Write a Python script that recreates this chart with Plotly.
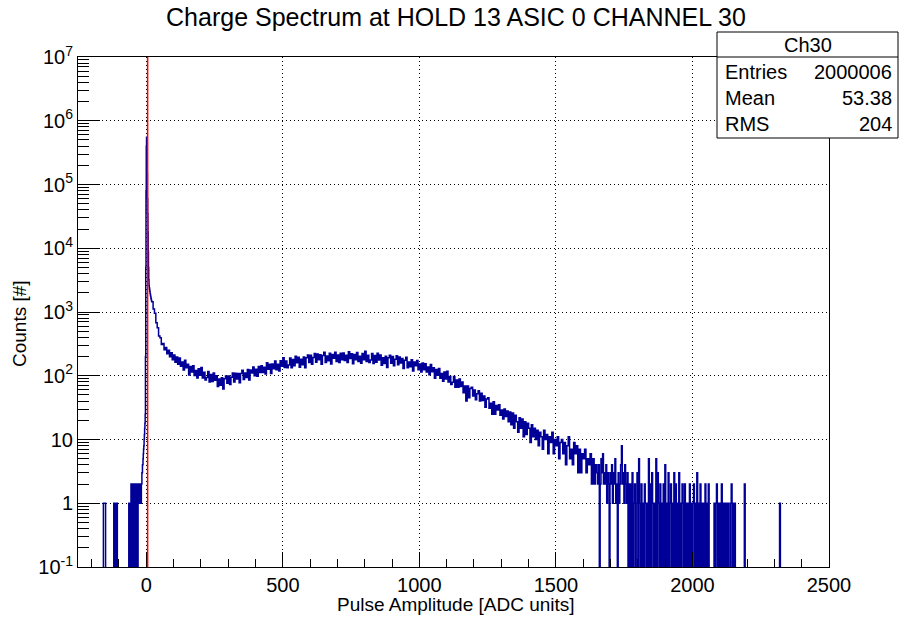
import plotly.graph_objects as go

# ---------------- data ----------------
x_min, x_max = -250, 2500

# isolated single-count bins on the negative side (1 ADC wide)
neg_bins = [-157, -156, -155, -154, -153, -152, -151, -150, -119, -118, -113, -108, -107]
neg_counts = [1, 1, 1, 1, 1, 1, 1, 1, 1, 1, 1, 1, 1]

# dense low region, 1 ADC bins starting at -64
low_start = -64
low_counts = [1, 0, 1, 0, 0, 1, 1, 0, 2, 1, 2, 0, 1, 2, 2, 1, 0, 2, 1, 2, 2, 0, 1, 2,
              1, 1, 2, 0, 2, 1, 2, 2, 1, 0, 2, 1, 2, 1, 2, 2, 1, 2, 1, 2, 2, 1, 2, 2]

# pedestal peak, 1 ADC bins starting at -16
peak_start = -16
peak_counts = [3, 3, 4, 4, 5, 6, 7, 8, 10, 12, 15, 18, 25, 200, 5000, 80000,
               400000, 550000, 350000, 150000, 60000, 35000, 18000, 9000, 5000, 3200,
               2600, 2400, 2250, 2100, 1950, 1850, 1750, 1650, 1570, 1500]

# main spectrum, 5 ADC bins starting at 20
main_start, main_width = 20, 5
main_counts = [
    1450, 1110, 960, 680, 565, 420, 395, 310, 320, 255, 278, 222, 252, 198, 230, 178, 212, 163, 196, 152,
    190, 141, 164, 123, 175, 133, 152, 103, 140, 114, 144, 101, 121, 92, 129, 102, 135, 92, 113, 86,
    94, 117, 80, 105, 81, 110, 85, 100, 68, 89, 71, 93, 62, 90, 99, 76, 99, 73, 95, 110,
    80, 109, 89, 108, 78, 108, 122, 87, 110, 94, 125, 86, 123, 110, 137, 100, 127, 98, 140, 112,
    144, 112, 136, 107, 160, 127, 152, 108, 153, 129, 170, 124, 151, 119, 172, 141, 192, 135, 171, 133,
    148, 190, 134, 180, 144, 202, 160, 195, 136, 182, 149, 197, 133, 192, 212, 161, 209, 152, 194, 223,
    163, 219, 178, 214, 151, 207, 233, 162, 204, 172, 226, 153, 215, 189, 234, 168, 212, 161, 225, 179,
    227, 173, 209, 162, 238, 187, 221, 154, 215, 179, 232, 167, 202, 157, 223, 179, 242, 168, 210, 161,
    177, 223, 156, 207, 163, 226, 176, 212, 146, 192, 155, 203, 135, 192, 209, 157, 201, 144, 182, 206,
    149, 197, 158, 187, 130, 175, 195, 134, 165, 138, 179, 119, 165, 143, 174, 124, 153, 115, 159, 124,
    154, 115, 137, 104, 150, 116, 134, 91, 125, 102, 130, 91, 108, 82, 114, 89, 118, 80, 97, 73,
    79, 97, 66, 86, 66, 89, 68, 80, 54, 69, 40, 69, 45, 63, 66, 48, 60, 42, 52, 58,
    40, 53, 41, 48, 32, 43, 45, 31, 37, 25, 39, 25, 34, 29, 35, 24, 29, 21, 30, 23,
    28, 19, 27, 17, 26, 15, 24, 19, 13, 22, 15, 21, 11, 19, 12, 18, 15, 9, 17, 11,
    15, 10, 14, 8, 13, 11, 7, 14, 10, 12, 6, 11, 9, 13, 6, 10, 8, 11, 5, 9,
    10, 6, 9, 4, 8, 11, 5, 7, 4, 9, 6, 8, 3, 7, 3, 6, 5, 7, 3, 5,
    4, 6, 2, 5, 2, 4,
]

# sparse tail, 3 ADC bins starting at 1650
tail_start, tail_width = 1650, 3
tail_counts = [
    3, 2, 4, 0, 2, 5, 3, 6, 2, 3,
    2, 4, 1, 3, 2, 0, 3, 2, 4, 1,
    3, 2, 5, 1, 2, 0, 3, 1, 2, 4,
    8, 2, 3, 1, 4, 2, 1, 3, 0, 2,
    0, 2, 0, 3, 0, 1, 2, 0, 1, 3,
    0, 5, 1, 0, 2, 0, 1, 0, 2, 1,
    0, 1, 0, 5, 0, 2, 0, 3, 1, 0,
    1, 0, 5, 0, 3, 1, 0, 2, 0, 1,
    0, 2, 0, 4, 0, 1, 0, 3, 0, 1,
    2, 0, 1, 0, 3, 0, 2, 0, 1, 0,
    3, 0, 1, 0, 2, 1, 0, 2, 0, 1,
    0, 1, 0, 2, 0, 1, 0, 1, 2, 0,
    1, 0, 3, 0, 1, 0, 2, 0, 1, 0,
    1, 0, 2, 0, 1, 0, 2, 0, 0, 0,
    0, 0, 0, 1, 0, 1, 2, 0, 1, 0,
    1, 0, 2, 0, 1, 0, 1, 0, 1, 0,
    1, 0, 0, 1, 2, 0, 1, 0, 1, 0,
    0, 0, 0, 0, 0, 0, 0, 0, 0, 0,
    2, 0, 0, 0, 0, 0, 0, 0, 0, 0,
    0, 0, 0, 0, 0, 0, 0, 0, 0, 0,
    0, 0, 0, 0, 0, 0, 0, 0, 0, 0,
    0, 0, 0, 0, 0, 0, 0, 0, 0, 0,
    0, 0, 0, 1, 0, 0, 0, 0, 0, 0,
]

pedestal_line = 5  # red marker line [ADC]

title_text = "Charge Spectrum at HOLD 13 ASIC 0 CHANNEL 30"
x_title = "Pulse Amplitude [ADC units]"
y_title = "Counts [#]"
stats_name = "Ch30"
stats_labels = ["Entries", "Mean", "RMS"]
stats_values = ["2000006", "53.38", "204"]

x_ticks = [0, 500, 1000, 1500, 2000, 2500]
y_tickvals = [0.1, 1, 10, 100, 1e3, 1e4, 1e5, 1e6, 1e7]
y_ticktext = ["10<sup>-1</sup>", "1", "10", "10<sup>2</sup>", "10<sup>3</sup>",
              "10<sup>4</sup>", "10<sup>5</sup>", "10<sup>6</sup>", "10<sup>7</sup>"]

# ---------------- build histogram outline ----------------
xs, ys = [], []


def add(start, width, counts):
    for i, c in enumerate(counts):
        xs.append(start + i * width)
        ys.append(c)


neg_dense = [0] * (low_start - x_min)
for b, c in zip(neg_bins, neg_counts):
    neg_dense[b - x_min] = c
add(x_min, 1, neg_dense)
add(low_start, 1, low_counts)
add(peak_start, 1, peak_counts)
add(main_start, main_width, main_counts)
add(tail_start, tail_width, tail_counts)
tail_end = tail_start + tail_width * len(tail_counts)
xs.append(tail_end)
ys.append(0)
xs.append(x_max)
ys.append(0)

floor = 1e-3
ys_plot = [v if v > 0 else floor for v in ys]

FONT = "Liberation Sans, Arial, Helvetica, sans-serif"
fig = go.Figure()
fig.add_trace(go.Scatter(x=xs, y=ys_plot, mode="lines", line=dict(color="#000099", width=1.5, shape="hv"),
                         hoverinfo="skip", showlegend=False))

fig.add_shape(type="line", xref="x", yref="paper", x0=pedestal_line, x1=pedestal_line, y0=0, y1=1,
              line=dict(color="#ff0000", width=1.5))

# stats box
L, R, T, B = 78, 829, 57, 567
W, H = R - L, B - T


def px(xp):
    return (xp - L) / W


def py(yp):
    return (B - yp) / H


fig.add_shape(type="rect", xref="paper", yref="paper", x0=px(717), x1=px(898), y0=py(138), y1=py(32),
              line=dict(color="black", width=1), fillcolor="white", layer="above")
fig.add_shape(type="line", xref="paper", yref="paper", x0=px(717), x1=px(898), y0=py(57), y1=py(57),
              line=dict(color="black", width=1), layer="above")
fig.add_annotation(xref="paper", yref="paper", x=px(808), y=py(45), text=stats_name, showarrow=False,
                   xanchor="center", yanchor="middle", font=dict(family=FONT, size=20, color="black"))
row_y = [72, 98, 124]
for lab, val, yy in zip(stats_labels, stats_values, row_y):
    fig.add_annotation(xref="paper", yref="paper", x=px(723), y=py(yy), text=lab, showarrow=False,
                       xanchor="left", yanchor="middle", font=dict(family=FONT, size=20, color="black"))
    fig.add_annotation(xref="paper", yref="paper", x=px(894), y=py(yy), text=val, showarrow=False,
                       xanchor="right", yanchor="middle", font=dict(family=FONT, size=20, color="black"))

fig.add_annotation(xref="paper", yref="paper", x=px(456), y=py(604), text=x_title, showarrow=False,
                   xanchor="center", yanchor="middle", font=dict(family=FONT, size=19, color="black"))
fig.add_annotation(xref="paper", yref="paper", x=px(19), y=py(324), text=y_title, showarrow=False,
                   textangle=-90, xanchor="center", yanchor="middle", font=dict(family=FONT, size=19, color="black"))

minor_x = [v for v in range(-200, 2501, 100) if v % 500 != 0]
minor_y = [k * 10.0 ** d for d in range(-1, 7) for k in range(2, 10)]

fig.update_layout(
    width=901, height=618,
    margin=dict(l=L, r=901 - R, t=T, b=618 - B),
    paper_bgcolor="white", plot_bgcolor="white",
    title=dict(text=title_text, x=456 / 901, xanchor="center", xref="container",
               y=1 - 17 / 618, yanchor="middle", yref="container",
               font=dict(family=FONT, size=25, color="black")),
    font=dict(family=FONT, color="black"),
    xaxis=dict(range=[x_min, x_max], tickvals=x_ticks, ticks="inside", ticklen=15, tickcolor="black",
               tickfont=dict(family=FONT, size=20, color="black"),
               showline=True, linecolor="black", linewidth=1, mirror=True,
               showgrid=True, gridcolor="black", gridwidth=1, griddash="1px,3px",
               zeroline=False,
               minor=dict(tickvals=minor_x, ticks="inside", ticklen=8, tickcolor="black", showgrid=False)),
    yaxis=dict(type="log", range=[-1, 7], tickvals=y_tickvals, ticktext=y_ticktext,
               ticks="inside", ticklen=22, tickcolor="black",
               tickfont=dict(family=FONT, size=20, color="black"),
               showline=True, linecolor="black", linewidth=1, mirror=True,
               showgrid=True, gridcolor="black", gridwidth=1, griddash="1px,3px",
               zeroline=False,
               minor=dict(tickvals=minor_y, ticks="inside", ticklen=11, tickcolor="black", showgrid=False)),
)

fig.write_html("out.html", config={"displayModeBar": False},
               post_script="document.body.style.margin='0';document.body.style.padding='0';")
